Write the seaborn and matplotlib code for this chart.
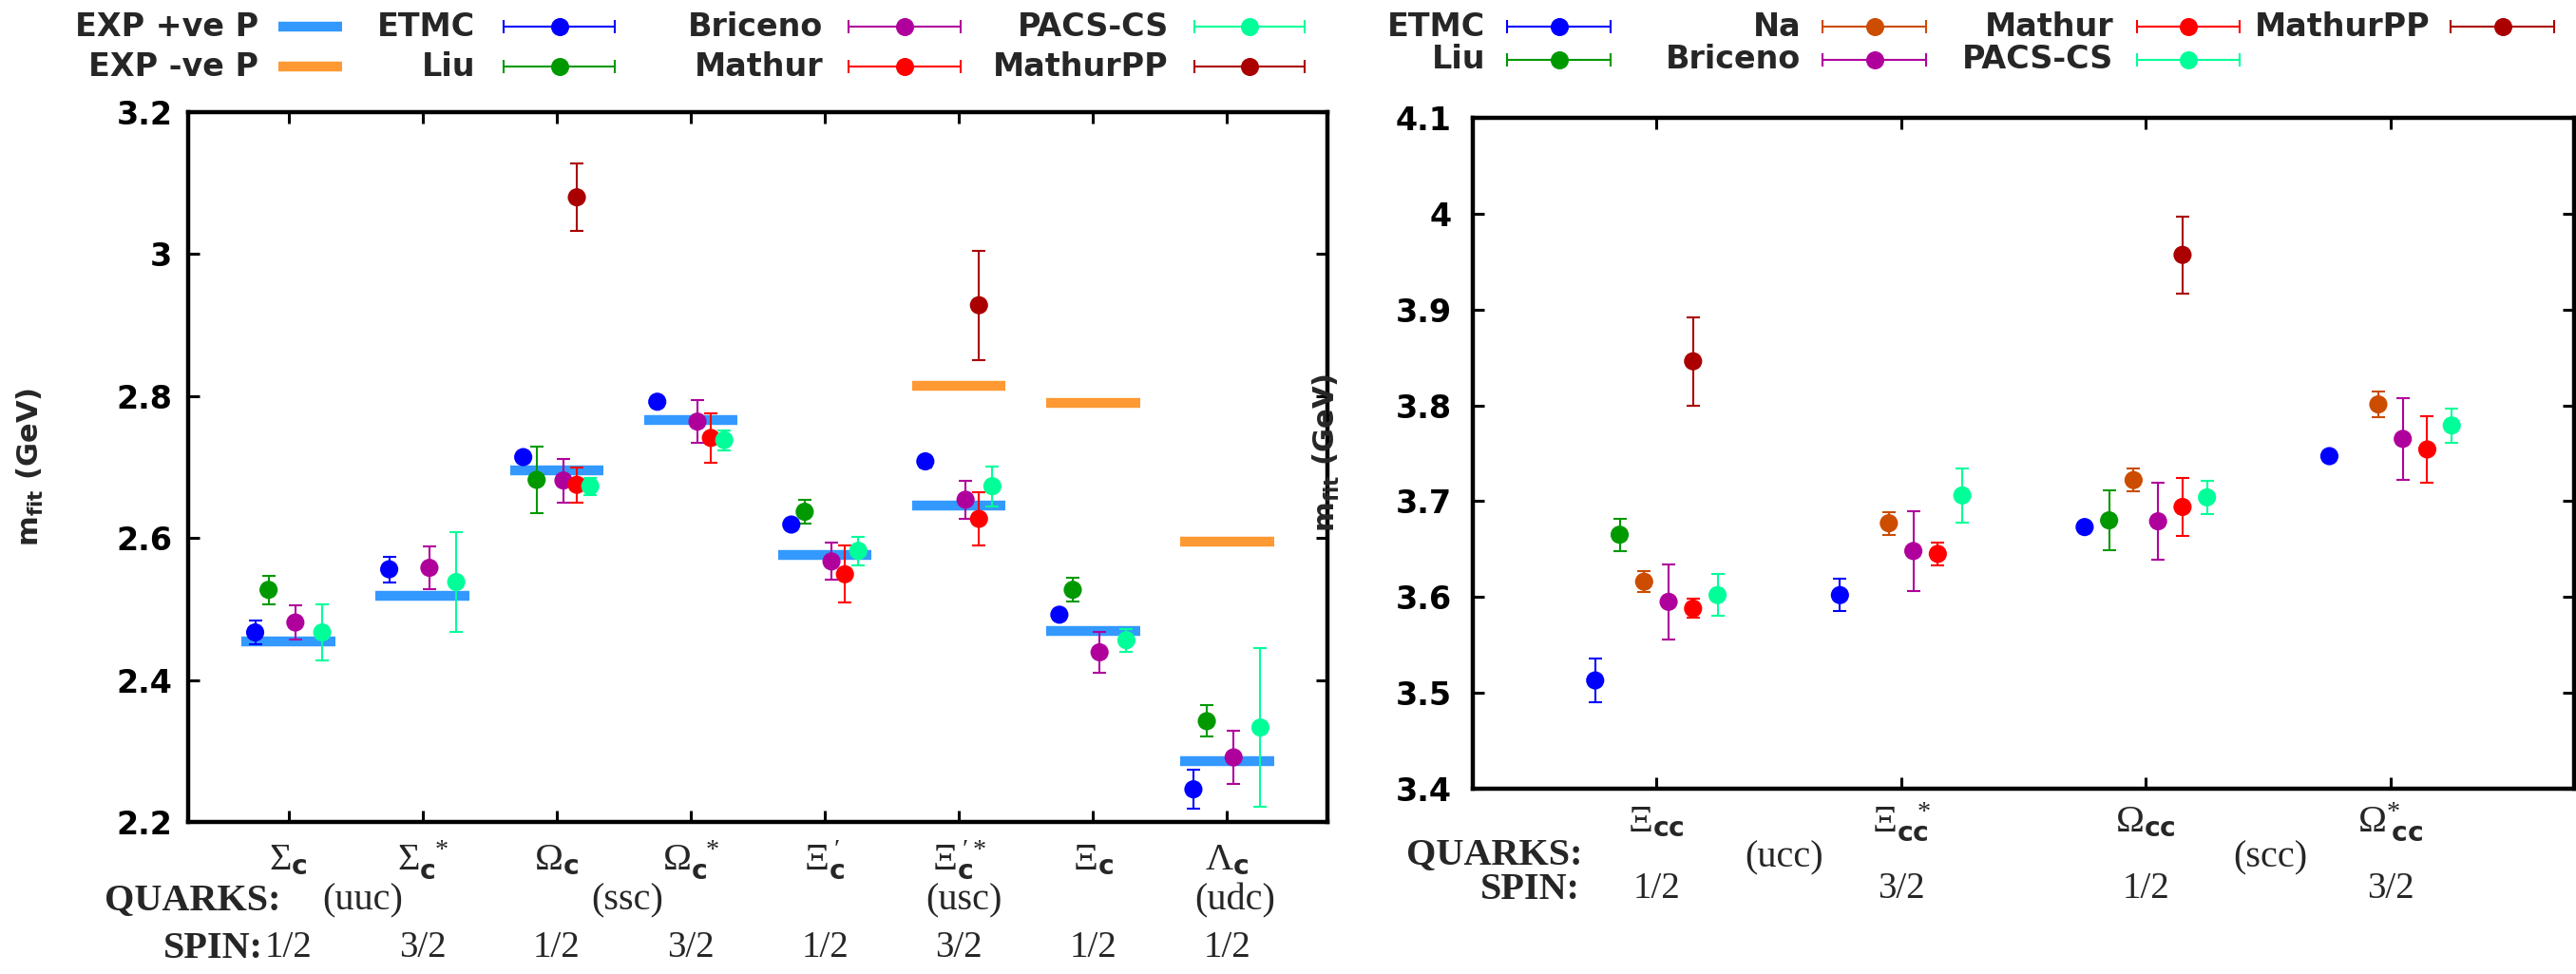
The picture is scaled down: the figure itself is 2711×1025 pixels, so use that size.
import numpy as np
import pandas as pd
import matplotlib
matplotlib.use('Agg')
import matplotlib.pyplot as plt
from matplotlib.lines import Line2D
from matplotlib.transforms import blended_transform_factory
import seaborn as sns

nan = np.nan

# ================= left panel: singly charmed baryons =================
left_names = [r'$\Sigma_{\mathbf{c}}$', r'$\Sigma_{\mathbf{c}}^{\;\;*}$', r'$\Omega_{\mathbf{c}}$',
              r'$\Omega_{\mathbf{c}}^{\;\;*}$', r"$\Xi^{\;\prime}_{\mathbf{c}}$", r"$\Xi^{\;\prime *}_{\mathbf{c}}$",
              r'$\Xi_{\mathbf{c}}$', r'$\Lambda_{\mathbf{c}}$']
left_quarks = ['(uuc)', '(ssc)', '(usc)', '(udc)']
left_quark_x = [1.55, 3.53, 6.04, 8.06]
left_spin = ['1/2', '3/2', '1/2', '3/2', '1/2', '3/2', '1/2', '1/2']

etmc_l = [2.467, 2.556, 2.714, 2.792, 2.619, 2.708, 2.492, 2.246]
etmc_l_err = [0.017, 0.018, 0.006, 0.005, 0.005, 0.008, 0.005, 0.027]
liu_l = [2.527, nan, 2.682, nan, 2.637, nan, 2.527, 2.342]
liu_l_err = [0.020, nan, 0.047, nan, 0.017, nan, 0.017, 0.022]
briceno_l = [2.481, 2.558, 2.681, 2.764, 2.567, 2.654, 2.439, 2.291]
briceno_l_err = [0.024, 0.030, 0.031, 0.030, 0.026, 0.027, 0.029, 0.037]
mathur_l = [nan, nan, 2.675, 2.741, 2.549, 2.627, nan, nan]
mathur_l_err = [nan, nan, 0.025, 0.035, 0.040, 0.037, nan, nan]
pacs_l = [2.467, 2.538, 2.673, 2.738, 2.582, 2.673, 2.456, 2.333]
pacs_l_err = [0.040, 0.070, 0.012, 0.014, 0.020, 0.028, 0.016, 0.112]
mathurpp_l = [nan, nan, 3.080, nan, nan, 2.928, nan, nan]
mathurpp_l_err = [nan, nan, 0.048, nan, nan, 0.077, nan, nan]

exp_pos = [2.454, 2.518, 2.695, 2.766, 2.576, 2.646, 2.469, 2.286]
exp_neg = [nan, nan, nan, nan, nan, 2.815, 2.790, 2.595]

# ================= right panel: doubly charmed baryons =================
right_names = [r'$\Xi_{\mathbf{cc}}$', r'$\Xi_{\mathbf{cc}}^{\;\;\;*}$', r'$\Omega_{\mathbf{cc}}$',
               r'$\Omega^{*}_{\;\mathbf{cc}}$']
right_quarks = ['(ucc)', '(scc)']
right_quark_x = [1.52, 3.51]
right_spin = ['1/2', '3/2', '1/2', '3/2']

etmc_r = [3.513, 3.602, 3.673, 3.747]
etmc_r_err = [0.023, 0.017, 0.005, 0.005]
liu_r = [3.665, nan, 3.680, nan]
liu_r_err = [0.017, nan, 0.031, nan]
na_r = [3.616, 3.677, 3.722, 3.801]
na_r_err = [0.011, 0.012, 0.012, 0.013]
briceno_r = [3.595, 3.648, 3.679, 3.765]
briceno_r_err = [0.039, 0.042, 0.040, 0.043]
mathur_r = [3.588, 3.645, 3.694, 3.754]
mathur_r_err = [0.010, 0.012, 0.030, 0.035]
pacs_r = [3.602, 3.706, 3.704, 3.779]
pacs_r_err = [0.022, 0.028, 0.017, 0.018]
mathurpp_r = [3.846, nan, 3.957, nan]
mathurpp_r_err = [0.046, nan, 0.040, nan]

colors = {'ETMC': '#0000ff', 'Liu': '#009900', 'Na': '#cc4c00', 'Briceno': '#b0009c',
          'Mathur': '#ff0000', 'PACS-CS': '#00ff99', 'MathurPP': '#aa0000'}
offsets = {'ETMC': -0.25, 'Liu': -0.15, 'Na': -0.05, 'Briceno': 0.05,
           'Mathur': 0.15, 'PACS-CS': 0.25, 'MathurPP': 0.15}
exp_colors = {'EXP +ve P': '#3399ff', 'EXP -ve P': '#ff9933'}

left_series = {'ETMC': (etmc_l, etmc_l_err), 'Liu': (liu_l, liu_l_err),
               'Briceno': (briceno_l, briceno_l_err), 'Mathur': (mathur_l, mathur_l_err),
               'PACS-CS': (pacs_l, pacs_l_err), 'MathurPP': (mathurpp_l, mathurpp_l_err)}
right_series = {'ETMC': (etmc_r, etmc_r_err), 'Liu': (liu_r, liu_r_err), 'Na': (na_r, na_r_err),
                'Briceno': (briceno_r, briceno_r_err), 'Mathur': (mathur_r, mathur_r_err),
                'PACS-CS': (pacs_r, pacs_r_err), 'MathurPP': (mathurpp_r, mathurpp_r_err)}

sns.set_theme(style='ticks')
plt.rcParams['font.family'] = ['DejaVu Sans']
plt.rcParams['mathtext.fontset'] = 'custom'
plt.rcParams['mathtext.rm'] = 'Liberation Serif'
plt.rcParams['mathtext.it'] = 'Liberation Serif:italic'
plt.rcParams['mathtext.bf'] = 'DejaVu Sans:bold'
plt.rcParams['mathtext.sf'] = 'DejaVu Sans'

W, H = 2711, 1025
fig = plt.figure(figsize=(W / 100, H / 100), dpi=100)
fig.patch.set_facecolor('white')


def fx(x):
    return x / W


def fy(y):
    return 1 - y / H


def draw_panel(ax, series, ylim, yticks, exp_p=None, exp_n=None):
    rows = []
    for name, (vals, errs) in series.items():
        for i, (v, e) in enumerate(zip(vals, errs)):
            if not np.isnan(v):
                rows.append({'series': name, 'x': i + 1 + offsets[name], 'mass': v, 'err': e})
    df = pd.DataFrame(rows)
    n = len(next(iter(series.values()))[0])

    # experimental levels
    for vals, key in ((exp_p, 'EXP +ve P'), (exp_n, 'EXP -ve P')):
        if vals is None:
            continue
        xs = np.arange(1, n + 1)
        ok = ~np.isnan(np.array(vals, dtype=float))
        ax.hlines(np.array(vals)[ok], xs[ok] - 0.35, xs[ok] + 0.35, colors=exp_colors[key],
                  lw=7.5, zorder=2)

    for name, g in df.groupby('series', sort=False):
        ax.errorbar(g['x'], g['mass'], yerr=g['err'], fmt='none', ecolor=colors[name],
                    elinewidth=1.5, capsize=4.7, capthick=1.5, zorder=3)
    sns.scatterplot(data=df, x='x', y='mass', hue='series', palette=colors, s=190,
                    edgecolor='none', linewidth=0, legend=False, ax=ax, zorder=4)

    ax.set_xlim(0.25, n + 0.75)
    ax.set_ylim(*ylim)
    ax.set_xticks(np.arange(1, n + 1))
    ax.set_xticklabels([])
    ax.set_yticks(yticks, labels=[f'{t:g}' for t in yticks], fontsize=24, fontweight='bold')
    ax.tick_params(direction='in', length=8.6, width=2.2, top=True, right=True, colors='black')
    for s in ax.spines.values():
        s.set_linewidth(3.2)
        s.set_color('black')
    ax.set_xlabel('')
    ax.set_ylabel(r'$\mathbf{m_{fit}}$ (GeV)', fontsize=22, fontweight='bold')


# ---------- left ----------
axL = fig.add_axes([fx(198), fy(865), fx(1199), 747 / H])
draw_panel(axL, left_series, (2.2, 3.2), [2.2, 2.4, 2.6, 2.8, 3.0, 3.2], exp_pos, exp_neg)
axL.tick_params(axis='y', pad=12)
axL.yaxis.set_label_coords(-0.125, 0.5)
tL = blended_transform_factory(axL.transData, axL.transAxes)
for i, lab in enumerate(left_names):
    axL.text(i + 1, -0.067, lab, transform=tL, ha='center', va='baseline', fontsize=29)
for q, xq in zip(left_quarks, left_quark_x):
    axL.text(xq, -0.111, q, transform=tL, ha='center', va='center', fontsize=29, family='Liberation Serif')
for i, s in enumerate(left_spin):
    axL.text(i + 1, -0.178, s, transform=tL, ha='center', va='center', fontsize=28, family='Liberation Serif')
fig.text(fx(295), fy(948), 'QUARKS:', ha='right', va='center', fontsize=29, fontweight='bold',
         family='Liberation Serif')
fig.text(fx(277), fy(998), 'SPIN:', ha='right', va='center', fontsize=29, fontweight='bold',
         family='Liberation Serif')

# ---------- right ----------
axR = fig.add_axes([fx(1550), fy(830), fx(1159), 706 / H])
draw_panel(axR, right_series, (3.4, 4.1), [3.4, 3.5, 3.6, 3.7, 3.8, 3.9, 4.0, 4.1])
axR.tick_params(axis='y', pad=16)
axR.yaxis.set_label_coords(-0.119, 0.5)
tR = blended_transform_factory(axR.transData, axR.transAxes)
for i, lab in enumerate(right_names):
    axR.text(i + 1, -0.064, lab, transform=tR, ha='center', va='baseline', fontsize=29)
for q, xq in zip(right_quarks, right_quark_x):
    axR.text(xq, -0.103, q, transform=tR, ha='center', va='center', fontsize=29, family='Liberation Serif')
for i, s in enumerate(right_spin):
    axR.text(i + 1, -0.150, s, transform=tR, ha='center', va='center', fontsize=28, family='Liberation Serif')
fig.text(fx(1666), fy(900), 'QUARKS:', ha='right', va='center', fontsize=29, fontweight='bold',
         family='Liberation Serif')
fig.text(fx(1663), fy(936), 'SPIN:', ha='right', va='center', fontsize=29, fontweight='bold',
         family='Liberation Serif')


# ---------- legends (gnuplot style: text then sample) ----------
def legend_entry(label, x_end, x1, x2, y, color, kind='err'):
    fig.text(fx(x_end), fy(y), label, ha='right', va='center', fontsize=24, fontweight='bold')
    if kind == 'bar':
        fig.add_artist(Line2D([fx(x1), fx(x2)], [fy(y), fy(y)], transform=fig.transFigure,
                              color=color, lw=7.5, solid_capstyle='butt'))
    else:
        fig.add_artist(Line2D([fx(x1), fx(x2)], [fy(y), fy(y)], transform=fig.transFigure,
                              color=color, lw=1.5, marker='|', ms=9.4, mew=1.5))
        fig.add_artist(Line2D([fx((x1 + x2) / 2)], [fy(y)], transform=fig.transFigure,
                              color=color, marker='o', ms=13.7, mec='none', lw=0))


legend_entry('EXP +ve P', 272, 293, 360, 28, exp_colors['EXP +ve P'], 'bar')
legend_entry('EXP -ve P', 272, 293, 360, 70, exp_colors['EXP -ve P'], 'bar')
legend_entry('ETMC', 500, 530, 647, 28, colors['ETMC'])
legend_entry('Liu', 500, 530, 647, 70, colors['Liu'])
legend_entry('Briceno', 866, 893, 1011, 28, colors['Briceno'])
legend_entry('Mathur', 866, 893, 1011, 70, colors['Mathur'])
legend_entry('PACS-CS', 1230, 1257, 1373, 28, colors['PACS-CS'])
legend_entry('MathurPP', 1230, 1257, 1373, 70, colors['MathurPP'])

legend_entry('ETMC', 1563, 1586, 1695, 28, colors['ETMC'])
legend_entry('Liu', 1563, 1586, 1695, 63, colors['Liu'])
legend_entry('Na', 1895, 1918, 2027, 28, colors['Na'])
legend_entry('Briceno', 1895, 1918, 2027, 63, colors['Briceno'])
legend_entry('Mathur', 2224, 2249, 2357, 28, colors['Mathur'])
legend_entry('PACS-CS', 2224, 2249, 2357, 63, colors['PACS-CS'])
legend_entry('MathurPP', 2558, 2579, 2688, 28, colors['MathurPP'])

fig.savefig('out.png', dpi=100, facecolor='white')
